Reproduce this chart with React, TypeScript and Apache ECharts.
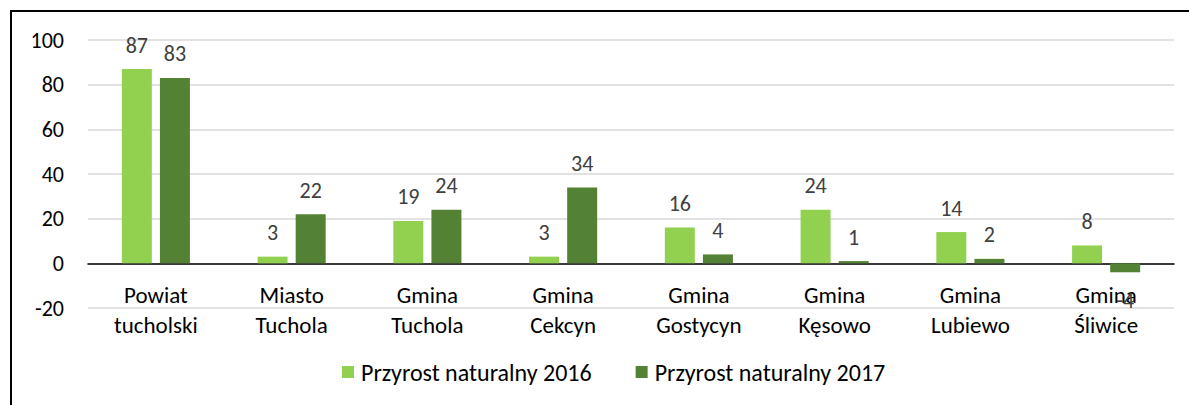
import React, { useEffect, useRef } from "react";
import * as echarts from "echarts";

const categories = [
  "Powiat\ntucholski",
  "Miasto\nTuchola",
  "Gmina\nTuchola",
  "Gmina\nCekcyn",
  "Gmina\nGostycyn",
  "Gmina\nKęsowo",
  "Gmina\nLubiewo",
  "Gmina\nŚliwice",
];
const seriesNames = ["Przyrost naturalny 2016", "Przyrost naturalny 2017"];
const values2016 = [87, 3, 19, 3, 16, 24, 14, 8];
const values2017 = [83, 22, 24, 34, 4, 1, 2, -4];
const yTicks = { min: -20, max: 100, interval: 20 };

const FONT = "Carlito, 'Open Sans', Lato, sans-serif";
const colors = ["#92D050", "#548235"];

function toData(vals: number[]) {
  return vals.map((v) =>
    v < 0 ? { value: v, label: { position: "bottom" as const, distance: 17 } } : v
  );
}

export default function App() {
  const ref = useRef<HTMLDivElement>(null);
  useEffect(() => {
    if (!ref.current) return;
    const chart = echarts.init(ref.current, undefined, { renderer: "svg" });
    const labelStyle = {
      show: true,
      position: "top" as const,
      distance: 13,
      color: "#404040",
      fontSize: 22,
      fontFamily: FONT,
    };
    chart.setOption({
      animation: false,
      backgroundColor: "#ffffff",
      color: colors,
      textStyle: { fontFamily: FONT },
      grid: { left: 88, right: 15, top: 40, bottom: 97, containLabel: false },
      legend: {
        bottom: 16,
        left: 337,
        itemWidth: 12,
        itemHeight: 12,
        itemGap: 44,
        icon: "rect",
        textStyle: { fontSize: 24, color: "#000", fontFamily: FONT, padding: [0, 0, 0, 2] },
        data: seriesNames,
      },
      xAxis: {
        type: "category",
        data: categories,
        axisLine: { onZero: true, lineStyle: { color: "#000", width: 1.5 } },
        axisTick: { show: false },
        axisLabel: {
          color: "#000",
          fontSize: 23,
          lineHeight: 30,
          margin: -28,
          fontFamily: FONT,
          interval: 0,
        },
      },
      yAxis: {
        type: "value",
        min: yTicks.min,
        max: yTicks.max,
        interval: yTicks.interval,
        axisLine: { show: false },
        axisTick: { show: false },
        splitLine: { lineStyle: { color: "#d9d9d9", width: 1.5 } },
        axisLabel: { color: "#000", fontSize: 22, margin: 24, fontFamily: FONT },
      },
      series: [
        {
          name: seriesNames[0],
          type: "bar",
          data: toData(values2016),
          barWidth: 30,
          barGap: "27%",
          label: labelStyle,
        },
        {
          name: seriesNames[1],
          type: "bar",
          data: toData(values2017),
          barWidth: 30,
          barGap: "27%",
          label: labelStyle,
        },
      ],
      graphic: [
        {
          type: "rect",
          shape: { x: 11, y: 11, width: 1300, height: 600 },
          style: { fill: "none", stroke: "#000", lineWidth: 2 },
          silent: true,
        },
      ],
    });
    return () => chart.dispose();
  }, []);
  return (
    <div
      ref={ref}
      style={{ position: "absolute", left: 0, top: 0, width: 1189, height: 405 }}
    />
  );
}
